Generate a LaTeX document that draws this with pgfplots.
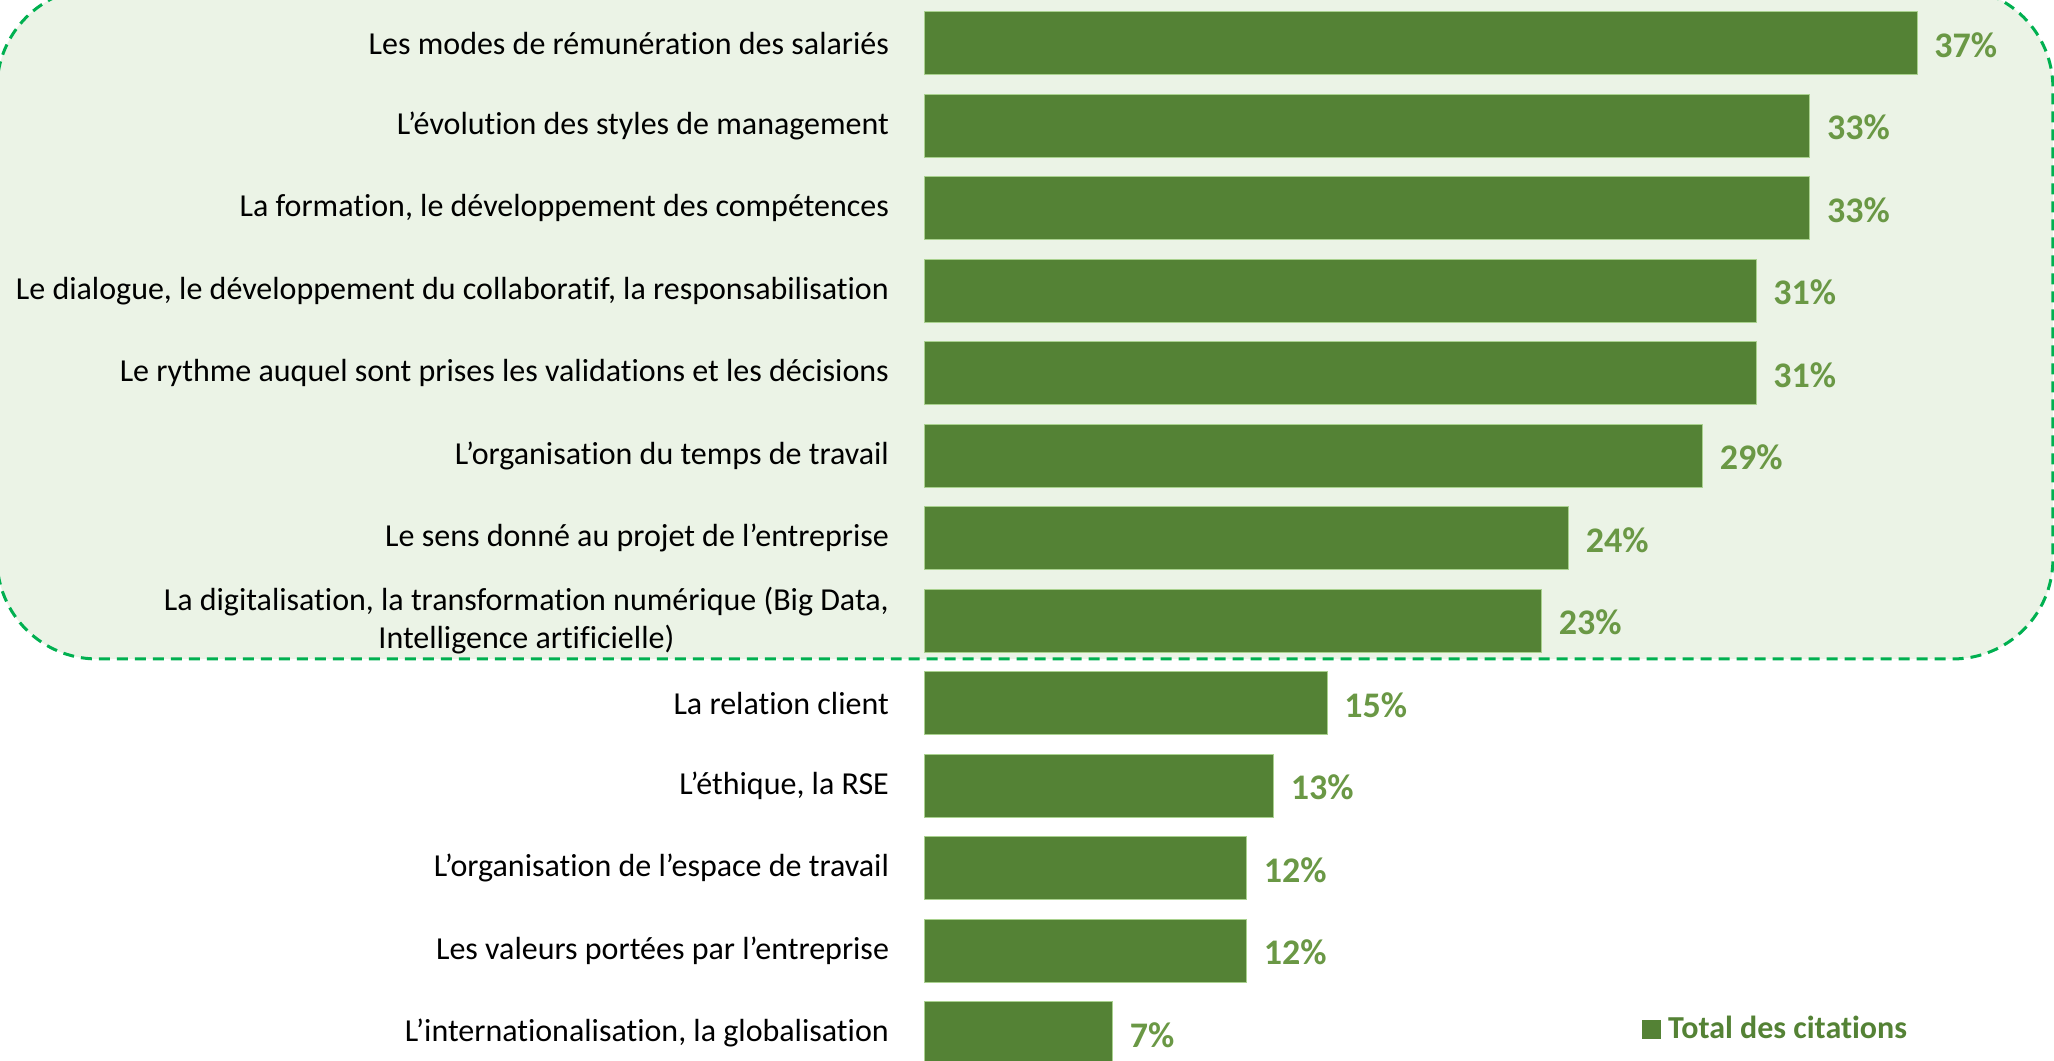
\documentclass[border=0pt]{standalone}
\usepackage{pgfplots}
\pgfplotsset{compat=1.18}
\usepackage{fontspec}
\setmainfont{Carlito}[Ligatures=NoCommon]
\definecolor{barfill}{RGB}{84,130,53}
\definecolor{baredge}{RGB}{169,209,142}
\definecolor{valtext}{RGB}{106,152,69}
\definecolor{zonefill}{RGB}{235,243,230}
\definecolor{zoneline}{RGB}{0,176,80}
\pgfplotsset{set layers}
\begin{document}
\begin{tikzpicture}
\begin{axis}[
  scale only axis,
  width=564.6pt, height=530.5pt,
  xbar, bar width=31.5pt,
  xmin=0, xmax=42.1,
  ymin=-0.527, ymax=12.333, y dir=reverse,
  ytick={0,...,12},
  yticklabels={
    {Les modes de rémunération des salariés},
    {L’évolution des styles de management},
    {La formation, le développement des compétences},
    {Le dialogue, le développement du collaboratif, la responsabilisation},
    {Le rythme auquel sont prises les validations et les décisions},
    {L’organisation du temps de travail},
    {Le sens donné au projet de l’entreprise},
    {La digitalisation, la transformation numérique (Big Data,\\Intelligence artificielle)},
    {La relation client},
    {L’éthique, la RSE},
    {L’organisation de l’espace de travail},
    {Les valeurs portées par l’entreprise},
    {L’internationalisation, la globalisation}},
  xtick=\empty,
  axis line style={draw=none},
  major tick length=0pt,
  clip=false,
  yticklabel style={font=\fontsize{16}{19}\selectfont, align=center, xshift=-14.5pt},
  point meta=x,
  nodes near coords={\pgfmathprintnumber{\pgfplotspointmeta}\%},
  nodes near coords style={font=\bfseries\fontsize{18}{20}\selectfont, text=valtext,
    anchor=west, xshift=5pt, yshift=-0.8pt},
  /pgf/number format/assume math mode=true,
  legend style={at={(axis cs:26.73,11.95)}, anchor=west, draw=none, fill=none,
    font=\bfseries\fontsize{16}{19}\selectfont, text=barfill, inner sep=0pt,
    nodes={inner sep=1pt},
    /tikz/every odd column/.append style={column sep=2.5pt}},
]
\begin{pgfonlayer}{axis background}
% zone entourée : les huit premiers items
\draw[zoneline, fill=zonefill, line width=1.5pt, dash pattern=on 5.5pt off 3.5pt,
      rounded corners=50pt]
  (axis cs:-34.6,-0.673) rectangle (axis cs:42.06,7.461);
\end{pgfonlayer}
\addplot[fill=barfill, draw=baredge, line width=0.5pt,
  legend image code/.code={\fill[barfill] (0pt,-4.5pt) rectangle (9pt,4.5pt);}]
  coordinates {(37,0) (33,1) (33,2) (31,3) (31,4) (29,5) (24,6) (23,7)
               (15,8) (13,9) (12,10) (12,11) (7,12)};
\addlegendentry{Total des citations}
\coordinate (pbl) at (axis cs:-34.49,12.333);
\coordinate (ptr) at (axis cs:42.1,-0.527);
\end{axis}
\pgfresetboundingbox
\path[use as bounding box] (pbl) rectangle (ptr);
\end{tikzpicture}
\end{document}
